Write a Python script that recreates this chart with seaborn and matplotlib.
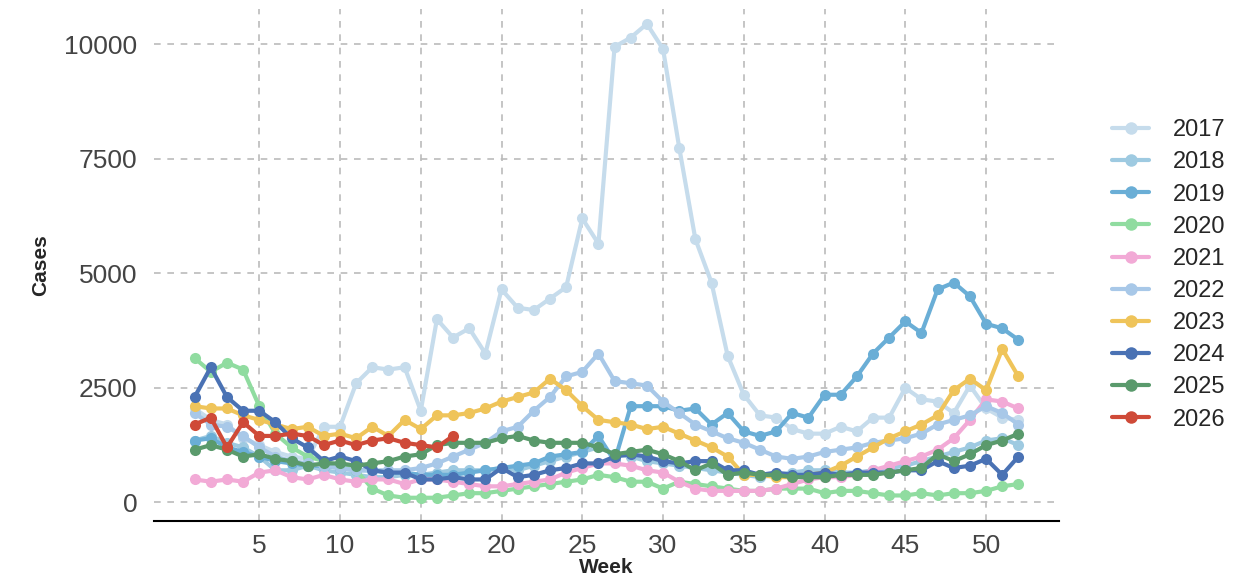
import numpy as np
import pandas as pd
import matplotlib
matplotlib.use('Agg')
import matplotlib.pyplot as plt
import seaborn as sns

years = ['2017', '2018', '2019', '2020', '2021', '2022', '2023', '2024', '2025', '2026']

cases_2017 = [2050, 1800, 1700, 1400, 1250, 1100, 1000, 950, 1650, 1650, 2600, 2950, 2900, 2950, 2000, 4000,
              3600, 3800, 3250, 4650, 4250, 4200, 4450, 4700, 6200, 5650, 9950, 10150, 10450, 9900, 7750, 5750,
              4800, 3200, 2350, 1900, 1850, 1600, 1500, 1500, 1650, 1550, 1850, 1850, 2500, 2250, 2200, 1950,
              2550, 2050, 1850, 1800]
cases_2018 = [1350, 1450, 1300, 1200, 1000, 700, 700, 800, 700, 650, 600, 550, 550, 600, 600, 650,
              700, 700, 700, 750, 700, 800, 900, 1000, 1100, 1200, 1050, 1000, 900, 850, 800, 750,
              700, 650, 600, 550, 600, 650, 700, 700, 650, 650, 700, 750, 800, 900, 1000, 1100,
              1200, 1350, 1400, 1250]
cases_2019 = [1350, 1400, 1200, 1100, 1000, 900, 850, 800, 800, 750, 700, 700, 650, 650, 600, 600,
              600, 650, 700, 750, 800, 850, 1000, 1050, 1100, 1450, 900, 2100, 2100, 2100, 2000, 2050,
              1700, 1950, 1550, 1450, 1550, 1950, 1850, 2350, 2350, 2750, 3250, 3600, 3950, 3700, 4650, 4800,
              4500, 3900, 3800, 3550]
cases_2020 = [3150, 2850, 3050, 2900, 2100, 1500, 1200, 1000, 900, 800, 700, 300, 150, 100, 100, 100,
              150, 200, 200, 250, 300, 350, 400, 450, 500, 600, 550, 450, 450, 300, 450, 400,
              350, 300, 250, 250, 300, 300, 300, 200, 250, 250, 200, 150, 150, 200, 150, 200,
              200, 250, 350, 400]
cases_2021 = [500, 450, 500, 450, 650, 700, 550, 500, 600, 500, 450, 500, 500, 400, 500, 500,
              450, 400, 350, 350, 400, 450, 500, 650, 750, 850, 850, 800, 700, 650, 450, 300,
              250, 250, 250, 250, 300, 400, 500, 550, 550, 600, 700, 800, 900, 1000, 1150, 1400,
              1800, 2250, 2200, 2050]
cases_2022 = [1950, 1700, 1650, 1450, 1200, 1000, 900, 850, 800, 750, 700, 700, 700, 700, 750, 850,
              1000, 1150, 1300, 1550, 1650, 2000, 2300, 2750, 2850, 3250, 2650, 2600, 2550, 2200, 1950, 1700,
              1550, 1400, 1300, 1150, 1000, 950, 1000, 1100, 1150, 1200, 1300, 1350, 1400, 1500, 1700, 1800,
              1900, 2100, 1950, 1700]
cases_2023 = [2100, 2050, 2050, 1900, 1800, 1700, 1600, 1650, 1450, 1500, 1400, 1650, 1450, 1800, 1600, 1900,
              1900, 1950, 2050, 2200, 2300, 2400, 2700, 2450, 2100, 1800, 1750, 1700, 1600, 1650, 1500, 1350,
              1200, 1000, 600, 600, 550, 550, 600, 650, 800, 1000, 1200, 1400, 1550, 1700, 1900, 2450,
              2700, 2450, 3350, 2750]
cases_2024 = [2300, 2950, 2300, 2000, 2000, 1750, 1400, 1200, 900, 1000, 900, 700, 650, 650, 500, 500,
              550, 500, 500, 750, 550, 600, 700, 750, 850, 850, 1000, 1050, 1000, 900, 850, 900,
              900, 700, 700, 600, 650, 600, 600, 650, 600, 650, 650, 650, 700, 700, 900, 750,
              800, 950, 600, 1000]
cases_2025 = [1150, 1250, 1150, 1000, 1050, 950, 900, 800, 850, 850, 800, 850, 900, 1000, 1050, 1250,
              1300, 1300, 1300, 1400, 1450, 1350, 1300, 1300, 1300, 1200, 1050, 1100, 1150, 1050, 900, 700,
              850, 600, 650, 600, 600, 550, 550, 550, 600, 600, 600, 650, 700, 750, 1050, 900,
              1050, 1250, 1350, 1500]
cases_2026 = [1700, 1850, 1200, 1750, 1450, 1450, 1500, 1450, 1250, 1350, 1250, 1350, 1400, 1300, 1250, 1200,
              1450]

colors = ['#c6dcec', '#9ecae1', '#6aaed6', '#90dca0', '#f2aad6', '#a8c8e8', '#efc45a', '#4a72b4', '#5a9a6c', '#cf4a38']

all_cases = [cases_2017, cases_2018, cases_2019, cases_2020, cases_2021,
             cases_2022, cases_2023, cases_2024, cases_2025, cases_2026]
frames = []
for yr, vals in zip(years, all_cases):
    frames.append(pd.DataFrame({'Week': np.arange(1, len(vals) + 1), 'Cases': vals, 'Year': yr}))
df = pd.concat(frames, ignore_index=True)

sns.set_style('white')
plt.rcParams['font.family'] = ['Liberation Sans', 'DejaVu Sans']
fig, ax = plt.subplots(figsize=(12.34, 5.85), dpi=100)
fig.subplots_adjust(left=0.125, right=0.858, top=0.985, bottom=0.11)

sns.lineplot(data=df, x='Week', y='Cases', hue='Year', hue_order=years, palette=colors,
             marker='o', markersize=8, markeredgewidth=0, linewidth=3, ax=ax)

ax.set_xlim(-1.5, 54.5)
ax.set_ylim(-400, 10780)
ax.set_xticks(range(5, 51, 5))
ax.set_yticks([0, 2500, 5000, 7500, 10000])
ax.grid(True, color='#bbbbbb', linestyle=(0, (4, 4)), linewidth=1.2)
for s in ['top', 'right', 'left']:
    ax.spines[s].set_visible(False)
ax.spines['bottom'].set_color('black')
ax.spines['bottom'].set_linewidth(1.5)
ax.tick_params(axis='x', length=6, width=1.5, color='black', labelsize=19, labelcolor='#444444')
ax.tick_params(axis='y', length=0, labelsize=19, labelcolor='#444444', pad=12)
ax.set_xlabel('Week', fontsize=15, fontweight='bold', labelpad=0)
ax.set_ylabel('Cases', fontsize=15, fontweight='bold', labelpad=10)

leg = ax.legend(loc='center left', bbox_to_anchor=(1.035, 0.48), frameon=False, fontsize=17,
                title=None, labelspacing=0.43, handlelength=1.6, handletextpad=1.0)
for h in leg.legend_handles:
    h.set_linewidth(3)
    h.set_markersize(9)

fig.savefig('out.png', dpi=100)
